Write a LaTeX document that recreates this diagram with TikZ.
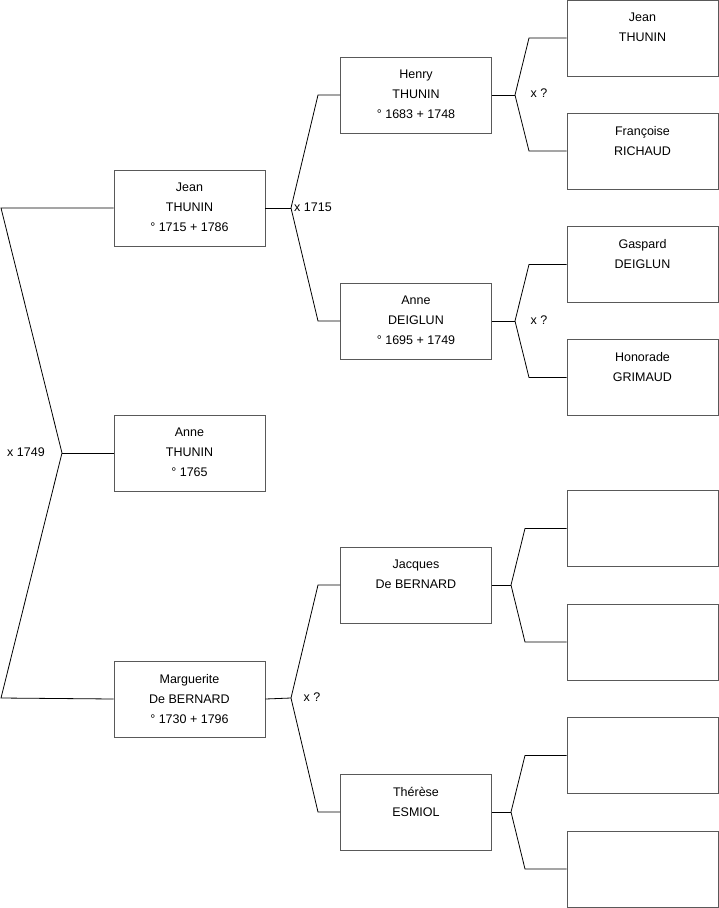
\documentclass[tikz,border=0pt]{standalone}
\usepackage{fontspec}
\setmainfont{Liberation Sans}
\tikzset{
  person/.style={draw=black!65, line width=0.9pt, minimum width=151pt, minimum height=76pt, inner sep=0pt},
  who/.style={align=center, inner sep=0pt, anchor=north, font=\fontsize{12.5}{20}\selectfont},
  branch/.style={line width=0.8pt},
  wed/.style={inner sep=0pt, font=\fontsize{12.5}{15}\selectfont}
}
% box with its names, text from the top
\newcommand{\person}[3]{%
  \node[person] (#1) at (#2) {};
  \node[who] (#1t) at ([yshift=-13.5pt]#1.north) {#3};
}
\begin{document}
\begin{tikzpicture}[x=1pt, y=-1pt]
\useasboundingbox (0,0) rectangle (719,908);
% child
\person{anne}{189.5,453}{Anne\\THUNIN\\° 1765}
% parents
\person{jean}{189.5,208}{Jean\\THUNIN\\° 1715 + 1786}
\person{marguerite}{189.5,699}{Marguerite\\De BERNARD\\° 1730 + 1796}
% grandparents
\person{henry}{416,95}{Henry\\THUNIN\\° 1683 + 1748}
\person{anned}{416,321}{Anne\\DEIGLUN\\° 1695 + 1749}
\person{jacques}{416,585}{Jacques\\De BERNARD}
\person{therese}{416,812}{Thérèse\\ESMIOL}
% great-grandparents
\person{gga}{642.5,38}{Jean\\THUNIN}
\person{ggb}{642.5,151}{Françoise\\RICHAUD}
\person{ggc}{642.5,264.5}{Gaspard\\DEIGLUN}
\person{ggd}{642.5,377.5}{Honorade\\GRIMAUD}
\person{gge}{642.5,528.5}{}
\person{ggf}{642.5,642}{}
\person{ggg}{642.5,755.5}{}
\person{ggh}{642.5,869}{}
% junctions
\coordinate (j0) at (62,453);
\coordinate (j0t) at (1,208);
\coordinate (j0b) at (1,698);
\coordinate (j1) at (291,208);
\coordinate (j1t) at (318,95);
\coordinate (j1b) at (318,321);
\coordinate (j2) at (291,698);
\coordinate (j2t) at (318,585);
\coordinate (j2b) at (318,812);
\coordinate (j3) at (515,95);
\coordinate (j3t) at (529,38);
\coordinate (j3b) at (529,151);
\coordinate (j4) at (515,321);
\coordinate (j4t) at (529,264.5);
\coordinate (j4b) at (529,377.5);
\coordinate (j5) at (511,585);
\coordinate (j5t) at (525,528.5);
\coordinate (j5b) at (525,642);
\coordinate (j6) at (511,812);
\coordinate (j6t) at (525,755.5);
\coordinate (j6b) at (525,869);
% brackets
\draw[branch] (jean.west) -- (j0t) -- (j0) -- (j0b) -- (marguerite.west);
\draw[branch] (j0) -- (anne.west);
\draw[branch] (jean.east) -- (j1);
\draw[branch] (henry.west) -- (j1t) -- (j1) -- (j1b) -- (anned.west);
\draw[branch] (marguerite.east) -- (j2);
\draw[branch] (jacques.west) -- (j2t) -- (j2) -- (j2b) -- (therese.west);
\draw[branch] (henry.east) -- (j3);
\draw[branch] (gga.west) -- (j3t) -- (j3) -- (j3b) -- (ggb.west);
\draw[branch] (anned.east) -- (j4);
\draw[branch] (ggc.west) -- (j4t) -- (j4) -- (j4b) -- (ggd.west);
\draw[branch] (jacques.east) -- (j5);
\draw[branch] (gge.west) -- (j5t) -- (j5) -- (j5b) -- (ggf.west);
\draw[branch] (therese.east) -- (j6);
\draw[branch] (ggg.west) -- (j6t) -- (j6) -- (j6b) -- (ggh.west);
% marriages
\node[wed] (m0) at (26,452) {x 1749};
\node[wed] (m1) at (313,207) {x 1715};
\node[wed] (m2) at (312,697) {x ?};
\node[wed] (m3) at (539,93) {x ?};
\node[wed] (m4) at (539,320) {x ?};
\end{tikzpicture}
\end{document}
